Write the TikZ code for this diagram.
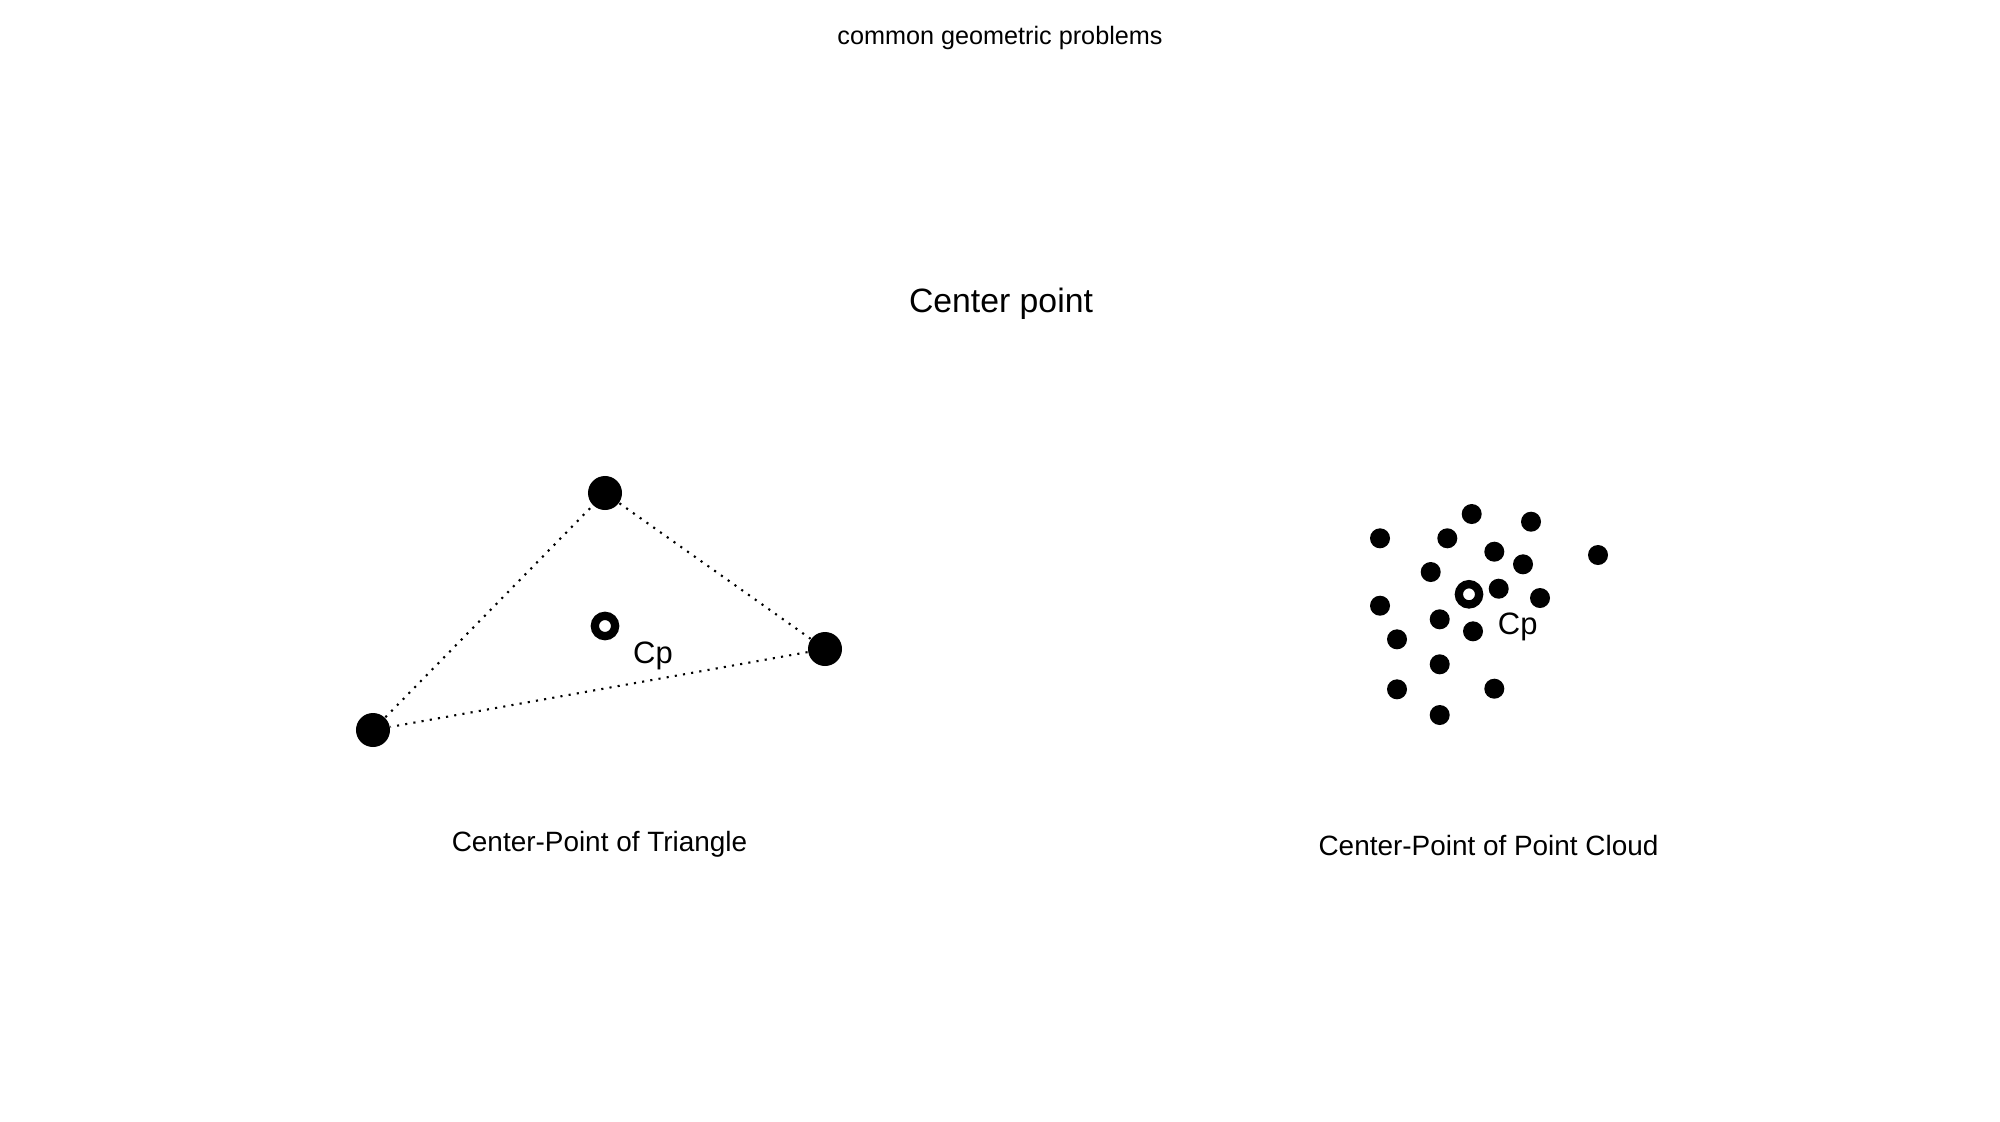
\documentclass[tikz,border=0pt]{standalone}
\usepackage{fontspec}
\setmainfont{Liberation Sans}
\begin{document}
\begin{tikzpicture}[x=0.01cm,y=-0.01cm,
  vtx/.style={circle,fill=black,inner sep=0pt,minimum size=0.34cm},
  cloudpt/.style={circle,fill=black,inner sep=0pt,minimum size=0.20cm},
  ring/.style={circle,draw=black,line width=2.35pt,fill=white,inner sep=0pt,minimum size=0.203cm},
  dotline/.style={line width=0.6pt,dash pattern=on 0.6pt off 1.76pt},
  lbl/.style={font=\fontsize{8.8pt}{10pt}\selectfont,inner sep=0pt},
  captext/.style={font=\fontsize{7.94pt}{9pt}\selectfont,inner sep=0pt}]
\useasboundingbox (0,0) rectangle (2000,1121);
% titles
\node[font=\fontsize{7.17pt}{8.5pt}\selectfont,inner sep=0pt] (title) at (1000,38) {common geometric problems};
\node[font=\fontsize{9.6pt}{11pt}\selectfont,inner sep=0pt] (sub) at (1001,304) {Center point};
% triangle
\node[vtx] (A) at (605,493) {};
\node[vtx] (B) at (825,649) {};
\node[vtx] (C) at (373,730) {};
\draw[dotline] (A) -- (B);
\draw[dotline] (B) -- (C);
\draw[dotline] (C) -- (A);
\node[ring] (cpA) at (605,626) {};
\node[lbl] (cpAl) at (653,656) {Cp};
\node[captext] (capA) at (599.5,844.5) {Center-Point of Triangle};
% point cloud
\foreach \x/\y [count=\i] in {1471.7/514, 1531/521.7, 1380/538.3, 1447.3/538.3, 1494.3/551.7,
  1523/564.3, 1598/555, 1430.7/572, 1498.7/588.7, 1540/598, 1380/605.7, 1439.7/619.3,
  1473/631.3, 1397/639.3, 1439.7/664.3, 1397/689.3, 1494.3/688.7, 1439.7/715}
  \node[cloudpt] (p\i) at (\x,\y) {};
\node[ring] (cpB) at (1469,594.3) {};
\node[lbl] (cpBl) at (1517.7,626.7) {Cp};
\node[captext] (capB) at (1488.5,845.7) {Center-Point of Point Cloud};
\end{tikzpicture}
\end{document}
